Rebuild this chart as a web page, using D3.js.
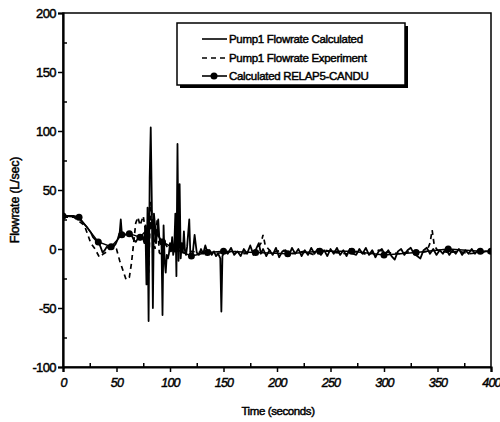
<!DOCTYPE html>
<html>
<head>
<meta charset="utf-8">
<script src="https://cdn.jsdelivr.net/npm/d3@7"></script>
<style>
  body { margin: 0; background: #fff; }
  text { font-family: "Liberation Sans", Arial, sans-serif; fill: #000; stroke: #000; stroke-width: 0.45px; }
</style>
</head>
<body>
<div id="chart"></div>
<script>
// Pump1 flowrate, calculated (solid line)
const calcTime = [0,5,10,14,18,22,26,28,31,33,35,37,39,41,43,45,47,49,51,53,54,55,58,62,64,66,68,70,72,74,76,77,78,79,80,81,82,83,84,85,86,87,88,89,90,91,92,93,94,95,96,97,98,99,100,101,102,103,104,105,106,107,108,109,110,111,112,113,114,115,116,118,119,121,123,125,127,129,131,133,135,137,139,141,143,145,147,148,149,151,154,157,160,163,166,169,172,175,178,180,183,185,187,190,193,196,199,202,205,208,211,214,217,220,223,226,229,232,235,238,241,244,247,250,253,256,259,262,265,268,271,274,277,280,283,286,289,292,295,298,301,304,307,310,313,316,319,322,325,328,331,334,337,340,343,346,349,352,355,358,361,364,367,370,373,376,379,382,385,388,391,395,400];
const calcFlow = [28,28,28,27,23,19,14,10,7,6,2,-3,-1,2,0,3,2,4,8,14,25,13,12,13,12,8,6,9,8,12,5,20,-30,35,-61,60,103,40,-50,30,20,5,15,25,10,5,8,-56,20,-10,-20,-5,-8,-4,5,-2,10,-5,2,30,-23,89,-10,55,-8,5,-3,15,-2,-5,2,25,-4,-6,12,-3,-5,0,-4,3,-3,-1,-5,-2,-6,-4,-8,-53,-6,-2,-4,1,-5,-2,-6,0,-4,3,-5,-1,5,-4,0,-6,-1,-5,1,-7,-2,-1,-6,1,-4,0,-6,-1,-5,1,-4,0,-5,-1,-6,0,-4,1,-5,-1,-6,0,-4,-5,0,-4,1,-5,-1,-7,-2,0,-5,-1,-6,-9,-2,0,-5,-1,1,-4,-6,-8,-1,1,-4,0,-5,-1,-4,0,-5,-1,-4,0,-5,-1,-4,0,-4,-1,-3,-2,-2];

// Pump1 flowrate, experiment (dashed line)
const expTime = [0,10,20,26,30,34,38,42,46,50,53,56,59,62,64,66,68,70,72,75,78,80,82,84,86,88,90,92,95,100,105,110,115,120,130,140,150,160,170,180,185,187,189,195,205,215,225,235,245,255,265,275,285,295,305,315,325,335,340,343,345,347,350,360,370,380,390,400];
const expFlow = [27,27,20,5,0,-7,-4,-2,2,0,-10,-18,-26,-24,-12,5,22,27,20,28,10,-20,40,15,0,25,-3,-5,5,-2,3,-2,-4,-2,-3,-4,-3,-2,-4,-2,5,12,3,-3,-1,-4,-2,-5,-1,-3,-4,-2,-5,-1,-3,-4,-2,-3,-2,5,16,3,-1,-3,-2,-4,-3,-3];

// Calculated RELAP5-CANDU (line with markers)
const relapTime = [0,15,33,45,55,62,72,82,93,105,120,135,150,180,210,240,270,300,330,360,390,400];
const relapFlow = [28,27,6,2,12,13,10,20,6,0,-6,-3,-2,-3,-4,-2,-2,-5,-3,0,-2,-2];

const seriesNames = ["Pump1 Flowrate Calculated", "Pump1 Flowrate Experiment", "Calculated RELAP5-CANDU"];
const xTicks = [0, 50, 100, 150, 200, 250, 300, 350, 400];
const yTicks = [-100, -50, 0, 50, 100, 150, 200];

const width = 500, height = 422;
const pLeft = 63, pRight = 491, pTop = 13, pBottom = 367;

const svg = d3.select("#chart").append("svg")
    .attr("width", width)
    .attr("height", height);

const x = d3.scaleLinear().domain([0, 400]).range([pLeft, pRight]);
const y = d3.scaleLinear().domain([-100, 200]).range([pBottom, pTop]);

// clip for the data
svg.append("clipPath").attr("id", "plot")
  .append("rect")
    .attr("x", pLeft).attr("y", pTop)
    .attr("width", pRight - pLeft).attr("height", pBottom - pTop);

const plot = svg.append("g").attr("clip-path", "url(#plot)");

const line = d3.line()
    .x(d => x(d[0]))
    .y(d => y(d[1]));

const calcData = calcTime.map((t, i) => [t, calcFlow[i]]);
const expData = expTime.map((t, i) => [t, expFlow[i]]);
const relapData = relapTime.map((t, i) => [t, relapFlow[i]]);

plot.append("path")
    .datum(expData)
    .attr("d", line)
    .attr("fill", "none")
    .attr("stroke", "#000")
    .attr("stroke-width", 1.7)
    .attr("stroke-dasharray", "5,4");

plot.append("path")
    .datum(calcData)
    .attr("d", line)
    .attr("fill", "none")
    .attr("stroke", "#000")
    .attr("stroke-width", 1.8)
    .attr("stroke-linejoin", "round");

plot.append("path")
    .datum(relapData)
    .attr("d", line)
    .attr("fill", "none")
    .attr("stroke", "#000")
    .attr("stroke-width", 1.5);

plot.selectAll("circle.mk")
    .data(relapData).enter()
    .append("circle")
    .attr("class", "mk")
    .attr("cx", d => x(d[0]))
    .attr("cy", d => y(d[1]))
    .attr("r", 3.5)
    .attr("fill", "#000");

// frame
svg.append("rect")
    .attr("x", pLeft).attr("y", pTop)
    .attr("width", pRight - pLeft).attr("height", pBottom - pTop)
    .attr("fill", "none")
    .attr("stroke", "#000")
    .attr("stroke-width", 1.5);

// X axis
const xAxis = svg.append("g")
    .attr("transform", "translate(0," + pBottom + ")")
    .call(d3.axisBottom(x).tickValues(xTicks).tickSize(5).tickPadding(6).tickFormat(d => String(d)));
svg.append("g")
    .attr("transform", "translate(0," + pBottom + ")")
    .call(d3.axisBottom(x).tickValues(d3.range(25, 400, 50)).tickSize(-4).tickFormat(""))
    .select(".domain").remove();

// Y axis
const yAxis = svg.append("g")
    .attr("transform", "translate(" + pLeft + ",0)")
    .call(d3.axisLeft(y).tickValues(yTicks).tickSize(5).tickPadding(2).tickFormat(d => String(d)));
svg.append("g")
    .attr("transform", "translate(" + pLeft + ",0)")
    .call(d3.axisLeft(y).tickValues(d3.range(-75, 200, 50)).tickSize(-4).tickFormat(""))
    .select(".domain").remove();

svg.selectAll(".domain").attr("stroke-width", 2.2);
svg.selectAll(".tick line").attr("stroke-width", 1.5);
svg.selectAll(".tick text")
    .style("font-family", "'Liberation Sans', Arial, sans-serif")
    .style("stroke", "#000")
    .style("stroke-width", "0.45px");
yAxis.selectAll(".tick text")
    .style("font-size", "13px")
    .style("letter-spacing", "-0.6px");
xAxis.selectAll(".tick text")
    .style("font-size", "12.5px")
    .style("letter-spacing", "-0.8px")
    .style("font-style", "italic");

// axis titles
svg.append("text")
    .attr("x", (pLeft + pRight) / 2 + 1)
    .attr("y", 415)
    .attr("text-anchor", "middle")
    .style("font-size", "11.5px")
    .style("letter-spacing", "-0.4px")
    .text("Time (seconds)");

svg.append("text")
    .attr("transform", "translate(19,200) rotate(-90)")
    .attr("text-anchor", "middle")
    .style("font-size", "12.5px")
    .style("letter-spacing", "-0.2px")
    .text("Flowrate (L/sec)");

// legend
const lg = svg.append("g");
lg.append("rect")
    .attr("x", 180).attr("y", 26)
    .attr("width", 228).attr("height", 62)
    .attr("fill", "#000");
lg.append("rect")
    .attr("x", 177).attr("y", 23)
    .attr("width", 228).attr("height", 62)
    .attr("fill", "#fff")
    .attr("stroke", "#000")
    .attr("stroke-width", 1.5);

const rowY = [39, 58, 76];
seriesNames.forEach((name, i) => {
    const ln = lg.append("line")
        .attr("x1", 202).attr("x2", 227)
        .attr("y1", rowY[i]).attr("y2", rowY[i])
        .attr("stroke", "#000")
        .attr("stroke-width", 1.6);
    if (i === 1) ln.attr("stroke-dasharray", "5,4");
    if (i === 2) {
        lg.append("circle")
            .attr("cx", 214).attr("cy", rowY[i])
            .attr("r", 3.5).attr("fill", "#000");
    }
    lg.append("text")
        .attr("x", 229).attr("y", rowY[i] + 4)
        .style("font-size", "11.5px")
        .style("letter-spacing", "-0.3px")
        .text(name);
});
</script>
</body>
</html>
